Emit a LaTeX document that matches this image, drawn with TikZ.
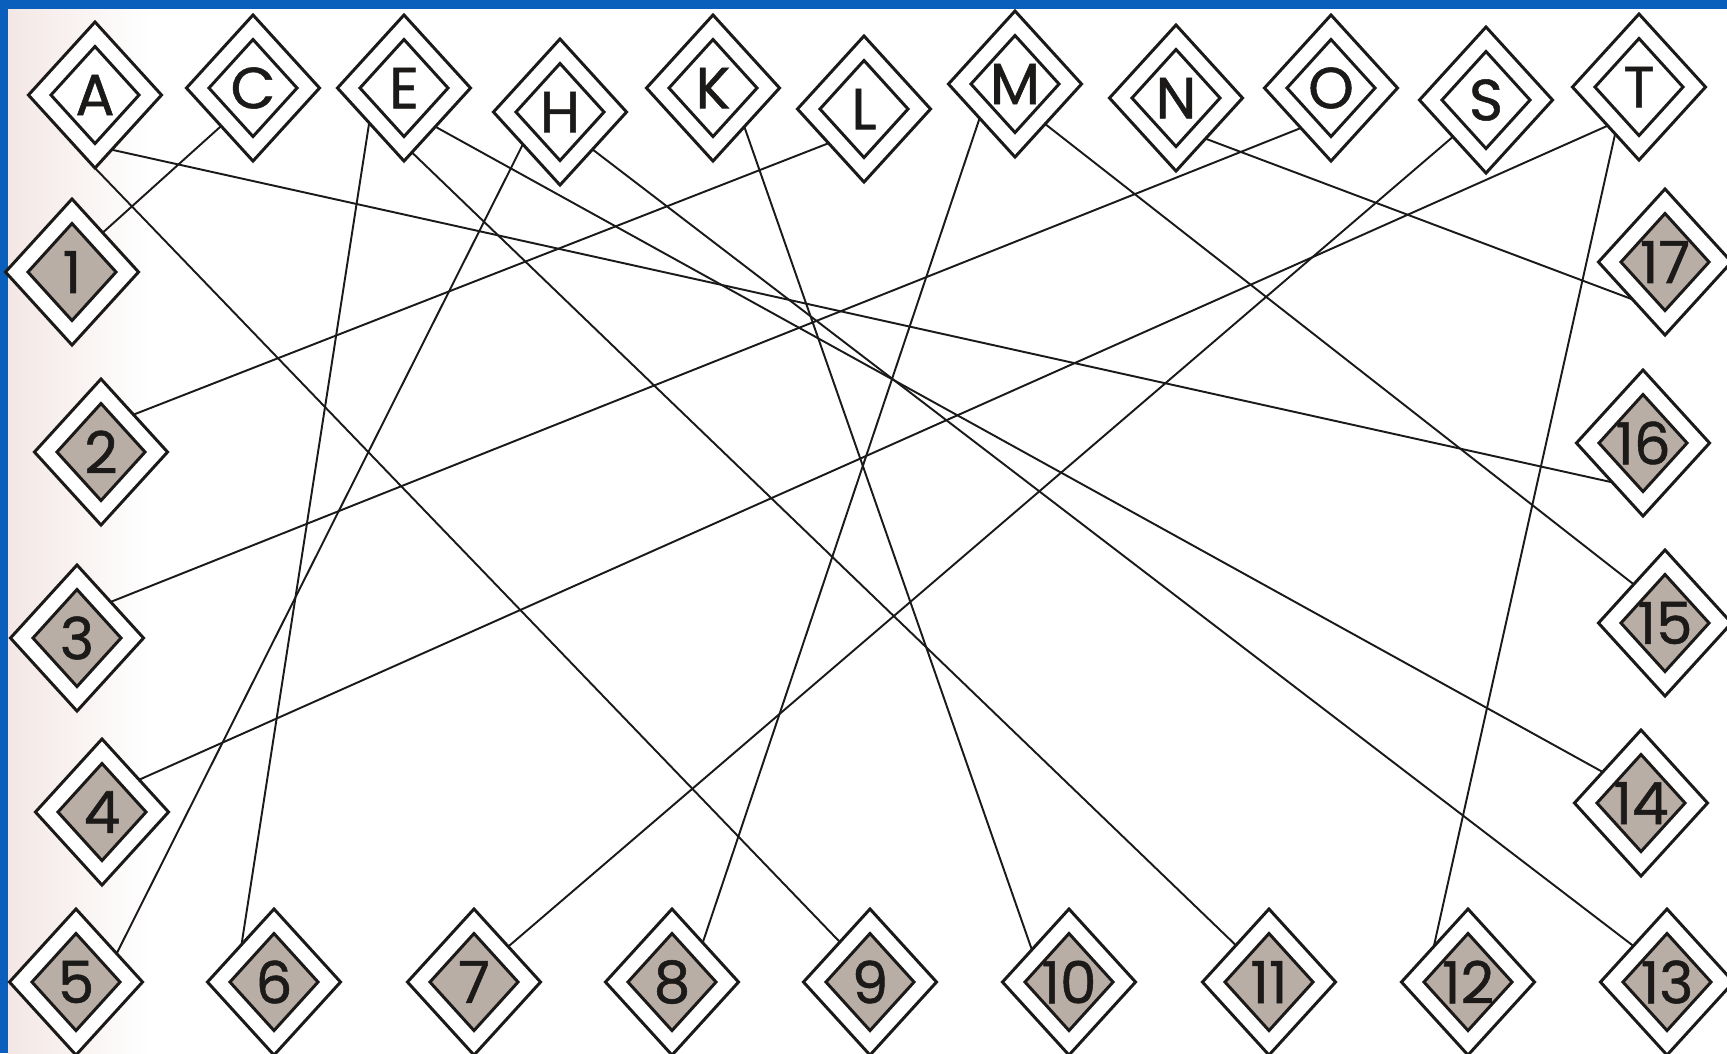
\documentclass[tikz,border=0pt]{standalone}
\usepackage{fontspec}
\setmainfont{Poppins}
\newfontfamily\diafont{Poppins}[FakeBold=0.9]
\usepackage{tikz}
\usetikzlibrary{shapes.geometric,calc}
\definecolor{cInk}{HTML}{1C1A19}
\definecolor{cShade}{HTML}{B9AEA6}
\definecolor{cSlide}{HTML}{0A5EBC}
\definecolor{cTint}{HTML}{F3E7E5}
\tikzset{
  dia/.style    = {diamond, draw=cInk, line width=0.85pt, fill=white,
                   minimum width=13.3mm, minimum height=14.6mm,
                   inner sep=0pt, outer sep=0pt, text=cInk,
                   font=\diafont\fontsize{16.5}{16.5}\selectfont},
  letter/.style = {dia, path picture={
                     \draw[cInk, line width=0.85pt]
                       ([yshift=4.85mm]path picture bounding box.center)
                       -- ++(4.4mm,-4.85mm) -- ++(-4.4mm,-4.85mm)
                       -- ++(-4.4mm,4.85mm) -- cycle;}},
  number/.style = {dia, path picture={
                     \draw[cInk, fill=cShade, line width=0.85pt]
                       ([yshift=4.85mm]path picture bounding box.center)
                       -- ++(4.4mm,-4.85mm) -- ++(-4.4mm,-4.85mm)
                       -- ++(-4.4mm,4.85mm) -- cycle;}},
  link/.style   = {draw=cInk, line width=0.55pt},
}

\begin{document}
\begin{tikzpicture}[x=0.01cm, y=-0.01cm]
  \useasboundingbox (0,0) rectangle (1727,1053);
  \clip (0,0) rectangle (1727,1053);
  % ---- slide and sheet ----
  \fill[cSlide] (0,0) rectangle (1727,1053);
  \fill[white] (8,9) rectangle (1727,1053);
  \shade[left color=cTint, right color=white] (8,9) rectangle (150,1053);
  % ---- letters row ----
  \node[letter] (A) at (95,95)   {A};
  \node[letter] (C) at (253,88)  {C};
  \node[letter] (E) at (404,88)  {E};
  \node[letter] (H) at (560,112) {H};
  \node[letter] (K) at (713,88)  {K};
  \node[letter] (L) at (864,109) {L};
  \node[letter] (M) at (1015,84) {M};
  \node[letter] (N) at (1176,98) {N};
  \node[letter] (O) at (1331,88) {O};
  \node[letter] (S) at (1486,100) {S};
  \node[letter] (T) at (1639,87) {T};
  % ---- numbers, left column ----
  \node[number] (n1) at (72,272)  {1};
  \node[number] (n2) at (101,452) {2};
  \node[number] (n3) at (77,638)  {3};
  \node[number] (n4) at (102,812) {4};
  % ---- numbers, bottom row ----
  \node[number] (n5)  at (76,982)   {5};
  \node[number] (n6)  at (274,982)  {6};
  \node[number] (n7)  at (474,982)  {7};
  \node[number] (n8)  at (672,982)  {8};
  \node[number] (n9)  at (870,982)  {9};
  \node[number] (n10) at (1069,982) {10};
  \node[number] (n11) at (1269,982) {11};
  \node[number] (n12) at (1468,982) {12};
  \node[number] (n13) at (1667,982) {13};
  % ---- numbers, right column ----
  \node[number] (n14) at (1641,803) {14};
  \node[number] (n15) at (1665,623) {15};
  \node[number] (n16) at (1643,443) {16};
  \node[number] (n17) at (1665,262) {17};
  % ---- matching lines ----
  \draw[link] (A.-73) -- (n16.232);
  \draw[link] (A.south) -- (n9.127);
  \draw[link] (C.230) -- (n1.52);
  \draw[link] (E.225) -- (n6.131);
  \draw[link] (E.-83) -- (n11.132);
  \draw[link] (E.-51) -- (n14.141);
  \draw[link] (H.221) -- (n5.35);
  \draw[link] (H.-49) -- (n13.133);
  \draw[link] (K.-51) -- (n10.139);
  \draw[link] (L.224) -- (n2.49);
  \draw[link] (M.224) -- (n8.52);
  \draw[link] (M.-53) -- (n15.129);
  \draw[link] (N.-54) -- (n17.229);
  \draw[link] (O.233) -- (n3.47);
  \draw[link] (S.228) -- (n7.46);
  \draw[link] (T.231) -- (n4.41);
  \draw[link] (T.243) -- (n12.134);
\end{tikzpicture}
\end{document}
